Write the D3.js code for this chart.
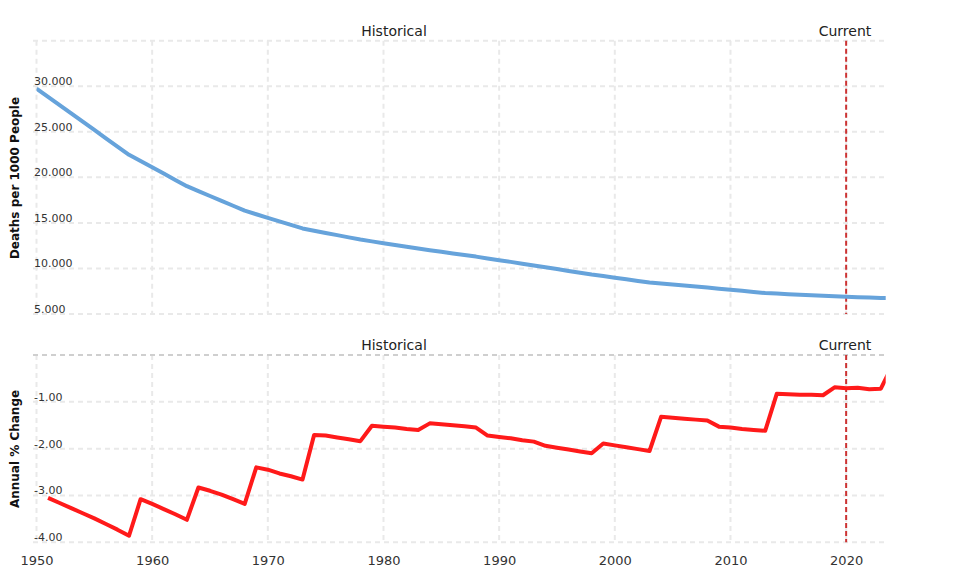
<!DOCTYPE html>
<html>
<head>
<meta charset="utf-8">
<script src="https://cdn.jsdelivr.net/npm/d3@7"></script>
<style>
  html, body { margin: 0; padding: 0; background: #fff; }
  svg { display: block; font-family: "DejaVu Sans", Verdana, sans-serif; }
</style>
</head>
<body>
<svg id="chart" width="966" height="579"></svg>
<script>
// ---------- DATA ----------
const years = [1950,1951,1952,1953,1954,1955,1956,1957,1958,1959,1960,1961,1962,1963,1964,1965,1966,1967,1968,1969,
  1970,1971,1972,1973,1974,1975,1976,1977,1978,1979,1980,1981,1982,1983,1984,1985,1986,1987,1988,1989,
  1990,1991,1992,1993,1994,1995,1996,1997,1998,1999,2000,2001,2002,2003,2004,2005,2006,2007,2008,2009,
  2010,2011,2012,2013,2014,2015,2016,2017,2018,2019,2020,2021,2022,2023,2024];

const deathRate = [29.75,28.84,27.93,27.02,26.11,25.20,24.29,23.38,22.48,21.79,21.10,20.41,19.72,19.03,18.49,17.95,17.42,16.88,16.34,15.95,
  15.56,15.17,14.78,14.39,14.14,13.90,13.66,13.41,13.17,12.97,12.77,12.58,12.38,12.18,12.00,11.83,11.65,11.47,11.30,11.10,
  10.91,10.72,10.52,10.33,10.13,9.93,9.73,9.53,9.33,9.16,8.98,8.81,8.63,8.45,8.34,8.23,8.12,8.01,7.90,7.78,
  7.66,7.54,7.42,7.30,7.24,7.18,7.12,7.06,7.00,6.95,6.90,6.85,6.80,6.75,6.74];

// annual % change starts at 1951
const changeYears = years.slice(1);
const annualChange = [-3.05,-3.16,-3.27,-3.38,-3.49,-3.61,-3.73,-3.86,-3.08,-3.18,-3.29,-3.40,-3.52,-2.83,-2.90,-2.98,-3.08,-3.18,-2.40,
  -2.45,-2.53,-2.59,-2.66,-1.71,-1.72,-1.76,-1.80,-1.84,-1.51,-1.53,-1.55,-1.58,-1.60,-1.46,-1.48,-1.50,-1.52,-1.55,-1.72,
  -1.75,-1.78,-1.82,-1.85,-1.94,-1.98,-2.02,-2.06,-2.10,-1.89,-1.93,-1.97,-2.01,-2.05,-1.32,-1.34,-1.36,-1.38,-1.40,-1.53,
  -1.55,-1.58,-1.60,-1.62,-0.83,-0.84,-0.85,-0.85,-0.86,-0.69,-0.71,-0.70,-0.73,-0.72,-0.22];

const xTicks = [1950,1960,1970,1980,1990,2000,2010,2020];
const topGrid = [5,10,15,20,25,30,35];
const topLabels = [5,10,15,20,25,30];
const botGrid = [-4,-3,-2,-1,0];
const botLabels = [-4,-3,-2,-1];
const currentYear = 2020;
const topTitle = "Deaths per 1000 People";
const botTitle = "Annual % Change";
const histLabel = "Historical";
const curLabel = "Current";

// ---------- LAYOUT ----------
const svg = d3.select("#chart");
const xLeft = 36.5, xRight = 885.7;
const x = d3.scaleLinear().domain([1950, 2023.42]).range([xLeft, xRight]);
const yTop = d3.scaleLinear().domain([5, 35]).range([314, 40.7]);
const yBot = d3.scaleLinear().domain([-4, 0]).range([542.3, 355]);

const loc = d3.formatLocale({decimal: ".", thousands: ",", grouping: [3], currency: ["$", ""], minus: "-"});
const fmtTop = loc.format(".3f");
const fmtBot = loc.format(".2f");

const gridColor = "#e9e9e9";

svg.append("defs").call(d => {
  d.append("clipPath").attr("id", "clipTop").append("rect")
    .attr("x", xLeft).attr("y", 30).attr("width", xRight - xLeft).attr("height", 300);
  d.append("clipPath").attr("id", "clipBot").append("rect")
    .attr("x", xLeft).attr("y", 340).attr("width", xRight - xLeft).attr("height", 220);
});

function panel(y, gridVals, labelVals, fmt, topVal, topColor) {
  const g = svg.append("g");
  g.selectAll("line.v").data(xTicks).join("line")
    .attr("x1", d => x(d)).attr("x2", d => x(d))
    .attr("y1", y.range()[1]).attr("y2", y.range()[0])
    .attr("stroke", gridColor).attr("stroke-width", 2).attr("stroke-dasharray", "5,4");
  g.selectAll("line.h").data(gridVals).join("line")
    .attr("x1", 33).attr("x2", xRight)
    .attr("y1", d => y(d)).attr("y2", d => y(d))
    .attr("stroke", d => d === topVal ? topColor : gridColor)
    .attr("stroke-width", 2).attr("stroke-dasharray", "5,4");
  const ax = d3.axisRight(y).tickValues(labelVals).tickFormat(fmt).tickSize(0).tickPadding(0);
  const ag = svg.append("g").attr("transform", `translate(34,0)`).call(ax);
  ag.select(".domain").remove();
  ag.selectAll("text")
    .attr("x", 0).attr("dy", "-0.15em")
    .attr("text-anchor", "start")
    .attr("fill", "#333").style("font-size", "11px")
    .style("font-family", "'DejaVu Sans', Verdana, sans-serif");
  return g;
}

panel(yTop, topGrid, topLabels, fmtTop, 35, gridColor);
panel(yBot, botGrid, botLabels, fmtBot, 0, "#cfcfcf");

[[yTop], [yBot]].forEach(([y]) => {
  svg.append("line")
    .attr("x1", x(currentYear)).attr("x2", x(currentYear))
    .attr("y1", y.range()[1]).attr("y2", y.range()[0])
    .attr("stroke", "#cc3333").attr("stroke-width", 2).attr("stroke-dasharray", "5,3");
});

[[36], [350]].forEach(([by]) => {
  svg.append("text").attr("x", 394).attr("y", by).attr("text-anchor", "middle")
    .attr("fill", "#222").style("font-size", "14px").text(histLabel);
  svg.append("text").attr("x", 845).attr("y", by).attr("text-anchor", "middle")
    .attr("fill", "#222").style("font-size", "14px").text(curLabel);
});

const topLine = d3.line().x((d, i) => x(years[i])).y(d => yTop(d));
svg.append("path").datum(deathRate)
  .attr("clip-path", "url(#clipTop)")
  .attr("d", topLine).attr("fill", "none")
  .attr("stroke", "#66a3db").attr("stroke-width", 4).attr("stroke-linejoin", "round");

const botLine = d3.line().x((d, i) => x(changeYears[i])).y(d => yBot(d));
svg.append("path").datum(annualChange)
  .attr("clip-path", "url(#clipBot)")
  .attr("d", botLine).attr("fill", "none")
  .attr("stroke", "#ff1a1a").attr("stroke-width", 4).attr("stroke-linejoin", "round");

const xa = d3.axisBottom(x).tickValues(xTicks).tickFormat(d3.format("d")).tickSize(0).tickPadding(0);
const xg = svg.append("g").attr("transform", "translate(0,565)").call(xa);
xg.select(".domain").remove();
xg.selectAll("text").attr("y", 0).attr("dy", 0)
  .attr("fill", "#333").style("font-size", "13px")
  .style("font-family", "'DejaVu Sans', Verdana, sans-serif");

svg.append("text").attr("transform", "translate(19,178) rotate(-90)")
  .attr("text-anchor", "middle").attr("fill", "#111")
  .style("font-size", "12px").style("font-weight", "bold").text(topTitle);
svg.append("text").attr("transform", "translate(19,449) rotate(-90)")
  .attr("text-anchor", "middle").attr("fill", "#111")
  .style("font-size", "12px").style("font-weight", "bold").text(botTitle);
</script>
</body>
</html>
